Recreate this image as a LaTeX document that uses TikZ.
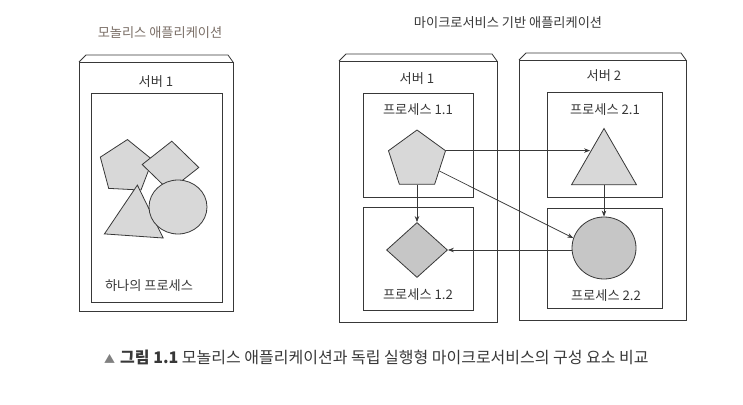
\documentclass[tikz,border=0pt]{standalone}
\usepackage{fontspec}
\setmainfont{Noto Sans CJK KR}
\usetikzlibrary{shapes.geometric,arrows.meta,calc}
\definecolor{ink}{HTML}{383838}
\definecolor{titlegray}{HTML}{7A6E66}
\definecolor{shapelight}{HTML}{D8D8D8}
\definecolor{shapedark}{HTML}{C6C6C6}
\tikzset{
  box/.style={draw=ink, line width=0.8pt},
  shp/.style={draw=ink, line width=0.8pt, fill=shapelight, inner sep=0pt},
  arr/.style={draw=ink, line width=0.7pt, -{Stealth[length=6pt,width=4.5pt]}},
  lbl/.style={text=ink, font=\fontsize{13.2}{15}\selectfont, inner sep=0pt},
}
\newcommand{\serverbox}[4]{% x1, y1, x2, y2
  \draw[box] (#1,#2) rectangle (#3,#4);
  \draw[box] (#1,#2) -- (#1+7,#2-7) -- (#3-5,#2-7) -- (#3,#2);
}
\begin{document}
\begin{tikzpicture}[x=1pt,y=-1pt]
\useasboundingbox (0,0) rectangle (743,404);

% ---------- Monolith ----------
\node[lbl, text=titlegray] (t1) at (160,33) {모놀리스 애플리케이션};
\serverbox{79}{62}{233}{311}
\node[lbl] (s0) at (156,82) {서버 1};
\draw[box] (91,93) rectangle (222,302);

\node[shp, regular polygon, regular polygon sides=5, minimum size=55pt, rotate=-3] (mp) at (126,167) {};
\node[shp, diamond, minimum width=57pt, minimum height=50pt, rotate=-3] (md) at (170.5,166) {};
\node[shp, regular polygon, regular polygon sides=3, minimum size=68pt, rotate=-4] (mt) at (135,219) {};
\node[shp, ellipse, minimum width=58pt, minimum height=54pt] (mc) at (178,207) {};
\node[lbl] (one) at (149,286) {하나의 프로세스};

% ---------- Microservices ----------
\node[lbl] (t2) at (508,23) {마이크로서비스 기반 애플리케이션};

\serverbox{339}{61}{497}{322}
\node[lbl] (s1) at (417,79) {서버 1};
\draw[box] (363,93) rectangle (473,197);
\draw[box] (363,207) rectangle (473,310);
\node[lbl] (p11) at (418,110) {프로세스 1.1};
\node[lbl] (p12) at (418,295) {프로세스 1.2};

\serverbox{519}{60}{686}{320}
\node[lbl] (s2) at (604,76) {서버 2};
\draw[box] (547,92) rectangle (662,197);
\draw[box] (547,208) rectangle (662,308);
\node[lbl] (p21) at (605,110) {프로세스 2.1};
\node[lbl] (p22) at (606,296) {프로세스 2.2};

\node[shp, regular polygon, regular polygon sides=5, minimum size=60pt] (pent) at (417,160) {};
\node[shp, fill=shapedark, diamond, minimum width=61pt, minimum height=55pt] (dia) at (417,250) {};
\node[shp, regular polygon, regular polygon sides=3, minimum size=75pt] (tri) at (604,166) {};
\node[shp, fill=shapedark, ellipse, minimum width=64pt, minimum height=62pt] (circ) at (604,248) {};

\coordinate (tin) at ($(tri.corner 1)!0.42!(tri.corner 2)$);
\coordinate (pout) at ($(pent.corner 5)!0.6!(pent.corner 4)$);
\draw[arr] (pent.corner 5) -- (pent.corner 5 -| tin);
\draw[arr] (pout) -- (circ.162);
\draw[arr] (pent.south) -- (dia.north);
\draw[arr] (tri.south) -- (circ.north);
\draw[arr] (circ.west |- dia.east) -- (dia.east);

% ---------- Caption ----------
\node[anchor=west, inner sep=0pt, text=ink, font=\fontsize{16}{18}\selectfont] (cap) at (104,357)
  {{\color{gray}\fontsize{11}{12}\selectfont ▲}\hspace{5pt}\textbf{그림 1.1} 모놀리스 애플리케이션과 독립 실행형 마이크로서비스의 구성 요소 비교};
\end{tikzpicture}
\end{document}
